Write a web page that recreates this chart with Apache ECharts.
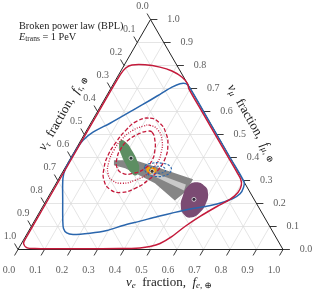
<!DOCTYPE html>
<html><head><meta charset="utf-8">
<script src="https://cdn.jsdelivr.net/npm/echarts@6/dist/echarts.min.js"></script>
<style>html,body{margin:0;padding:0;background:#fff}#c{width:316px;height:294px}</style>
</head><body><div id="c"></div>
<script>
// ---- data (ternary fractions: [f_e, f_mu], f_tau = 1 - f_e - f_mu) ----
const tickValues = [0.0,0.1,0.2,0.3,0.4,0.5,0.6,0.7,0.8,0.9,1.0];
const tickLabels = ['0.0','0.1','0.2','0.3','0.4','0.5','0.6','0.7','0.8','0.9','1.0'];

const redOuter = [[0.297,0.697],[0.40,0.594],[0.50,0.494],[0.60,0.394],[0.664,0.330],[0.688,0.305],
  [0.703,0.280],[0.706,0.248],[0.691,0.218],[0.657,0.187],[0.615,0.144],[0.580,0.100],[0.553,0.057],
  [0.523,0.026],[0.492,0.013],[0.457,0.007],[0.38,0.004],[0.25,0.003],[0.12,0.003],[0.062,0.004],
  [0.031,0.007],[0.008,0.026],[0.005,0.05],[0.005,0.2],[0.005,0.4],[0.005,0.6],[0.006,0.76],
  [0.012,0.789],[0.029,0.802],[0.078,0.803],[0.139,0.793],[0.193,0.776],[0.245,0.749],[0.280,0.720]];

const blueOuter = [[0.296,0.704],[0.273,0.721],[0.251,0.721],[0.228,0.706],[0.203,0.680],[0.174,0.649],
  [0.131,0.606],[0.073,0.549],[0.028,0.510],[0.008,0.475],[0.003,0.440],[0.002,0.397],[0.003,0.353],
  [0.015,0.309],[0.062,0.2135],[0.106,0.126],[0.126,0.0915],[0.148,0.0719],[0.175,0.0654],[0.236,0.071],
  [0.294,0.0828],[0.344,0.1046],[0.399,0.1233],[0.456,0.1438],[0.538,0.170],[0.652,0.198],[0.700,0.222],
  [0.717,0.242],[0.716,0.270],[0.706,0.294],[0.60,0.40],[0.45,0.55]];

const redDashOuter = [[0.213,0.571],[0.261,0.549],[0.306,0.505],[0.339,0.453],[0.357,0.397],[0.356,0.344],
  [0.340,0.301],[0.309,0.266],[0.265,0.248],[0.217,0.261],[0.174,0.301],[0.148,0.353],[0.135,0.410],
  [0.137,0.466],[0.148,0.519],[0.170,0.558]];
const redDotted = [[0.228,0.540],[0.269,0.519],[0.306,0.475],[0.329,0.423],[0.337,0.375],[0.325,0.331],
  [0.291,0.301],[0.248,0.288],[0.205,0.301],[0.174,0.331],[0.153,0.379],[0.146,0.431],[0.152,0.479],
  [0.175,0.519],[0.204,0.536]];
const redDashInner = [[0.251,0.510],[0.279,0.475],[0.301,0.431],[0.312,0.388],[0.303,0.353],[0.268,0.331],
  [0.230,0.331],[0.195,0.357],[0.175,0.397],[0.169,0.440],[0.178,0.475],[0.202,0.501],[0.230,0.514]];

const greenRegion = [[0.151,0.475],[0.180,0.462],[0.214,0.431],[0.255,0.388],[0.283,0.349],[0.284,0.322],
  [0.258,0.3355],[0.222,0.370],[0.182,0.414],[0.157,0.449]];
const grayCone = [[0.168,0.388],[0.248,0.388],[0.360,0.353],[0.508,0.305],[0.508,0.253],[0.485,0.2135],
  [0.373,0.2876],[0.299,0.322],[0.228,0.353],[0.179,0.366]];
const grayStripe = [[0.328,0.340],[0.492,0.283],[0.498,0.257],[0.335,0.327]];
const purpleRegion = [[0.526,0.292],[0.568,0.2745],[0.595,0.244],[0.609,0.200],[0.606,0.161],[0.583,0.139],
  [0.550,0.1525],[0.521,0.187],[0.505,0.235],[0.504,0.2745]];
const orangeRegion = [[0.308,0.352],[0.325,0.359],[0.348,0.349],[0.350,0.334],[0.331,0.330]];
const blueSmallOuter = [[0.298,0.3617],[0.318,0.375],[0.356,0.375],[0.393,0.3617],[0.407,0.340],
  [0.394,0.3224],[0.358,0.318],[0.321,0.331]];
const blueSmallInner = [[0.322,0.353],[0.344,0.3617],[0.372,0.357],[0.385,0.340],[0.362,0.331],[0.334,0.3355]];
const bestFits = [[0.228,0.397],[0.336,0.340],[0.555,0.218]];

// ---- helpers ----
const SQ = Math.sqrt(3) / 2;
const xy = p => [p[0] + p[1] / 2, p[1] * SQ];
const SERIF = '"Liberation Serif", "DejaVu Serif", serif';

function shape(pts, style, z, smooth) {
  const d = pts.map(xy);
  return {
    type: 'custom', coordinateSystem: 'cartesian2d', silent: true, z: z,
    data: d, encode: {x: 0, y: 1},
    renderItem: (params, api) => params.dataIndex === 0 ? {
      type: 'polygon', shape: {points: d.map(p => api.coord(p)), smooth: smooth}, style: style
    } : null
  };
}
function segs(list, style, z) {
  return {
    type: 'custom', coordinateSystem: 'cartesian2d', silent: true, z: z,
    data: list, encode: {x: [0, 2], y: [1, 3]},
    renderItem: (params, api) => {
      const a = api.coord([api.value(0), api.value(1)]);
      const b = api.coord([api.value(2), api.value(3)]);
      return {type: 'line', shape: {x1: a[0], y1: a[1], x2: b[0], y2: b[1]}, style: style};
    }
  };
}

// grid lines
const inner = tickValues.slice(1, -1);
const gridLines = [];
inner.forEach(v => {
  gridLines.push([...xy([v, 0]), ...xy([v, 1 - v])]);
  gridLines.push([...xy([0, v]), ...xy([1 - v, v])]);
  gridLines.push([...xy([1 - v, 0]), ...xy([0, 1 - v])]);
});
const edges = [[...xy([0, 0]), ...xy([1, 0])], [...xy([1, 0]), ...xy([0, 1])], [...xy([0, 1]), ...xy([0, 0])]];
const TL = 0.026;
const ticks = [];
tickValues.forEach(v => {
  const b = xy([v, 0]); ticks.push([b[0], b[1], b[0] - 0.5 * TL, b[1] - SQ * TL]);
  const l = xy([0, 1 - v]); ticks.push([l[0], l[1], l[0] - 0.5 * TL, l[1] + SQ * TL]);
  const r = xy([1 - v, v]); ticks.push([r[0], r[1], r[0] + TL, r[1]]);
});

function labelSeries(pos, offset) {
  return {
    type: 'scatter', symbolSize: 1, z: 20, silent: true,
    itemStyle: {color: 'rgba(0,0,0,0)'},
    data: tickValues.map((v, i) => ({value: xy(pos(v)), label: {formatter: tickLabels[i]}})),
    label: {show: true, position: 'inside', offset: offset, fontSize: 10, fontFamily: SERIF,
      color: '#333', align: 'center', verticalAlign: 'middle'}
  };
}

const RED = '#c41a3b', BLUE = '#2a66ad';

const series = [
  segs(gridLines, {stroke: '#dadada', lineWidth: 0.7}, 1),
  segs(edges, {stroke: '#222', lineWidth: 1}, 2),
  segs(ticks, {stroke: '#222', lineWidth: 0.9}, 2),
  shape(grayCone, {fill: '#858585'}, 5, 0),
  shape(grayStripe, {fill: '#c9c9c9'}, 6, 0),
  shape(greenRegion, {fill: '#5d8e62'}, 7, 0.5),
  shape(purpleRegion, {fill: '#7b4b73'}, 7, 0.5),
  shape(orangeRegion, {fill: '#f2a007'}, 8, 0.5),
  shape(redDashOuter, {fill: 'none', stroke: RED, lineWidth: 1.3, lineDash: [4, 2]}, 9, 0.5),
  shape(redDotted, {fill: 'none', stroke: RED, lineWidth: 1.3, lineDash: [1, 1.5]}, 9, 0.5),
  shape(redDashInner, {fill: 'none', stroke: RED, lineWidth: 1.3, lineDash: [4, 2]}, 9, 0.5),
  shape(blueSmallOuter, {fill: 'none', stroke: BLUE, lineWidth: 1.1, lineDash: [2.5, 1.5]}, 9, 0.5),
  shape(blueSmallInner, {fill: 'none', stroke: BLUE, lineWidth: 1.1, lineDash: [2, 1.5]}, 9, 0.5),
  shape(blueOuter, {fill: 'none', stroke: BLUE, lineWidth: 1.5}, 10, 0.3),
  shape(redOuter, {fill: 'none', stroke: RED, lineWidth: 1.5}, 11, 0.3),
  {type: 'scatter', z: 15, silent: true, symbol: 'circle', symbolSize: 4,
    itemStyle: {color: '#1d1d2b', borderColor: '#e8e8e8', borderWidth: 1},
    data: bestFits.map(xy)},
  labelSeries(v => [v, 0], [-9, 21]),
  labelSeries(v => [0, 1 - v], [-8, -13.5]),
  labelSeries(v => [1 - v, v], [23, 0])
];

const richBase = {
  i: {fontStyle: 'italic', fontFamily: SERIF, fontSize: 13, color: '#222'},
  s: {fontFamily: SERIF, fontSize: 9, color: '#222', verticalAlign: 'bottom', padding: [6, 0, 0, 0]},
  si: {fontFamily: SERIF, fontStyle: 'italic', fontSize: 9, color: '#222', verticalAlign: 'bottom', padding: [6, 0, 0, 0]}
};
function title(text, x, y, rot) {
  return {type: 'text', x: x, y: y, rotation: rot, z: 30,
    style: {text: text, rich: richBase, fontFamily: SERIF, fontSize: 13, fill: '#222',
      align: 'center', verticalAlign: 'middle'}};
}

const chart = echarts.init(document.getElementById('c'));
chart.setOption({
  animation: false,
  grid: {left: 18, right: 33, top: 19.5, bottom: 44.5},
  xAxis: {type: 'value', min: 0, max: 1, show: false},
  yAxis: {type: 'value', min: 0, max: SQ, show: false},
  series: series,
  graphic: [
    title('{i|ν}{si|e}  fraction,  {i|f}{si|e}{s|, ⊕}', 169, 283, 0),
    title('{i|ν}{si|τ}  fraction,  {i|f}{si|τ}{s|, ⊕}', 63, 113, Math.PI / 3),
    title('{i|ν}{si|μ}  fraction,  {i|f}{si|μ}{s|, ⊕}', 252, 123, -Math.PI / 3),
    {type: 'text', x: 19, y: 26, z: 30, style: {text: 'Broken power law (BPL)', fontFamily: SERIF,
      fontSize: 10.3, fill: '#222', verticalAlign: 'middle'}},
    {type: 'text', x: 19, y: 37, z: 30, style: {text: '{a|E}{b|trans} = 1 PeV', fontFamily: SERIF,
      fontSize: 10.3, fill: '#222', verticalAlign: 'middle',
      rich: {a: {fontStyle: 'italic', fontFamily: SERIF, fontSize: 10.3, fill: '#222'},
             b: {fontFamily: SERIF, fontSize: 7.5, fill: '#222', verticalAlign: 'bottom', padding: [5, 0, 0, 0]}}}}
  ]
});
</script></body></html>
